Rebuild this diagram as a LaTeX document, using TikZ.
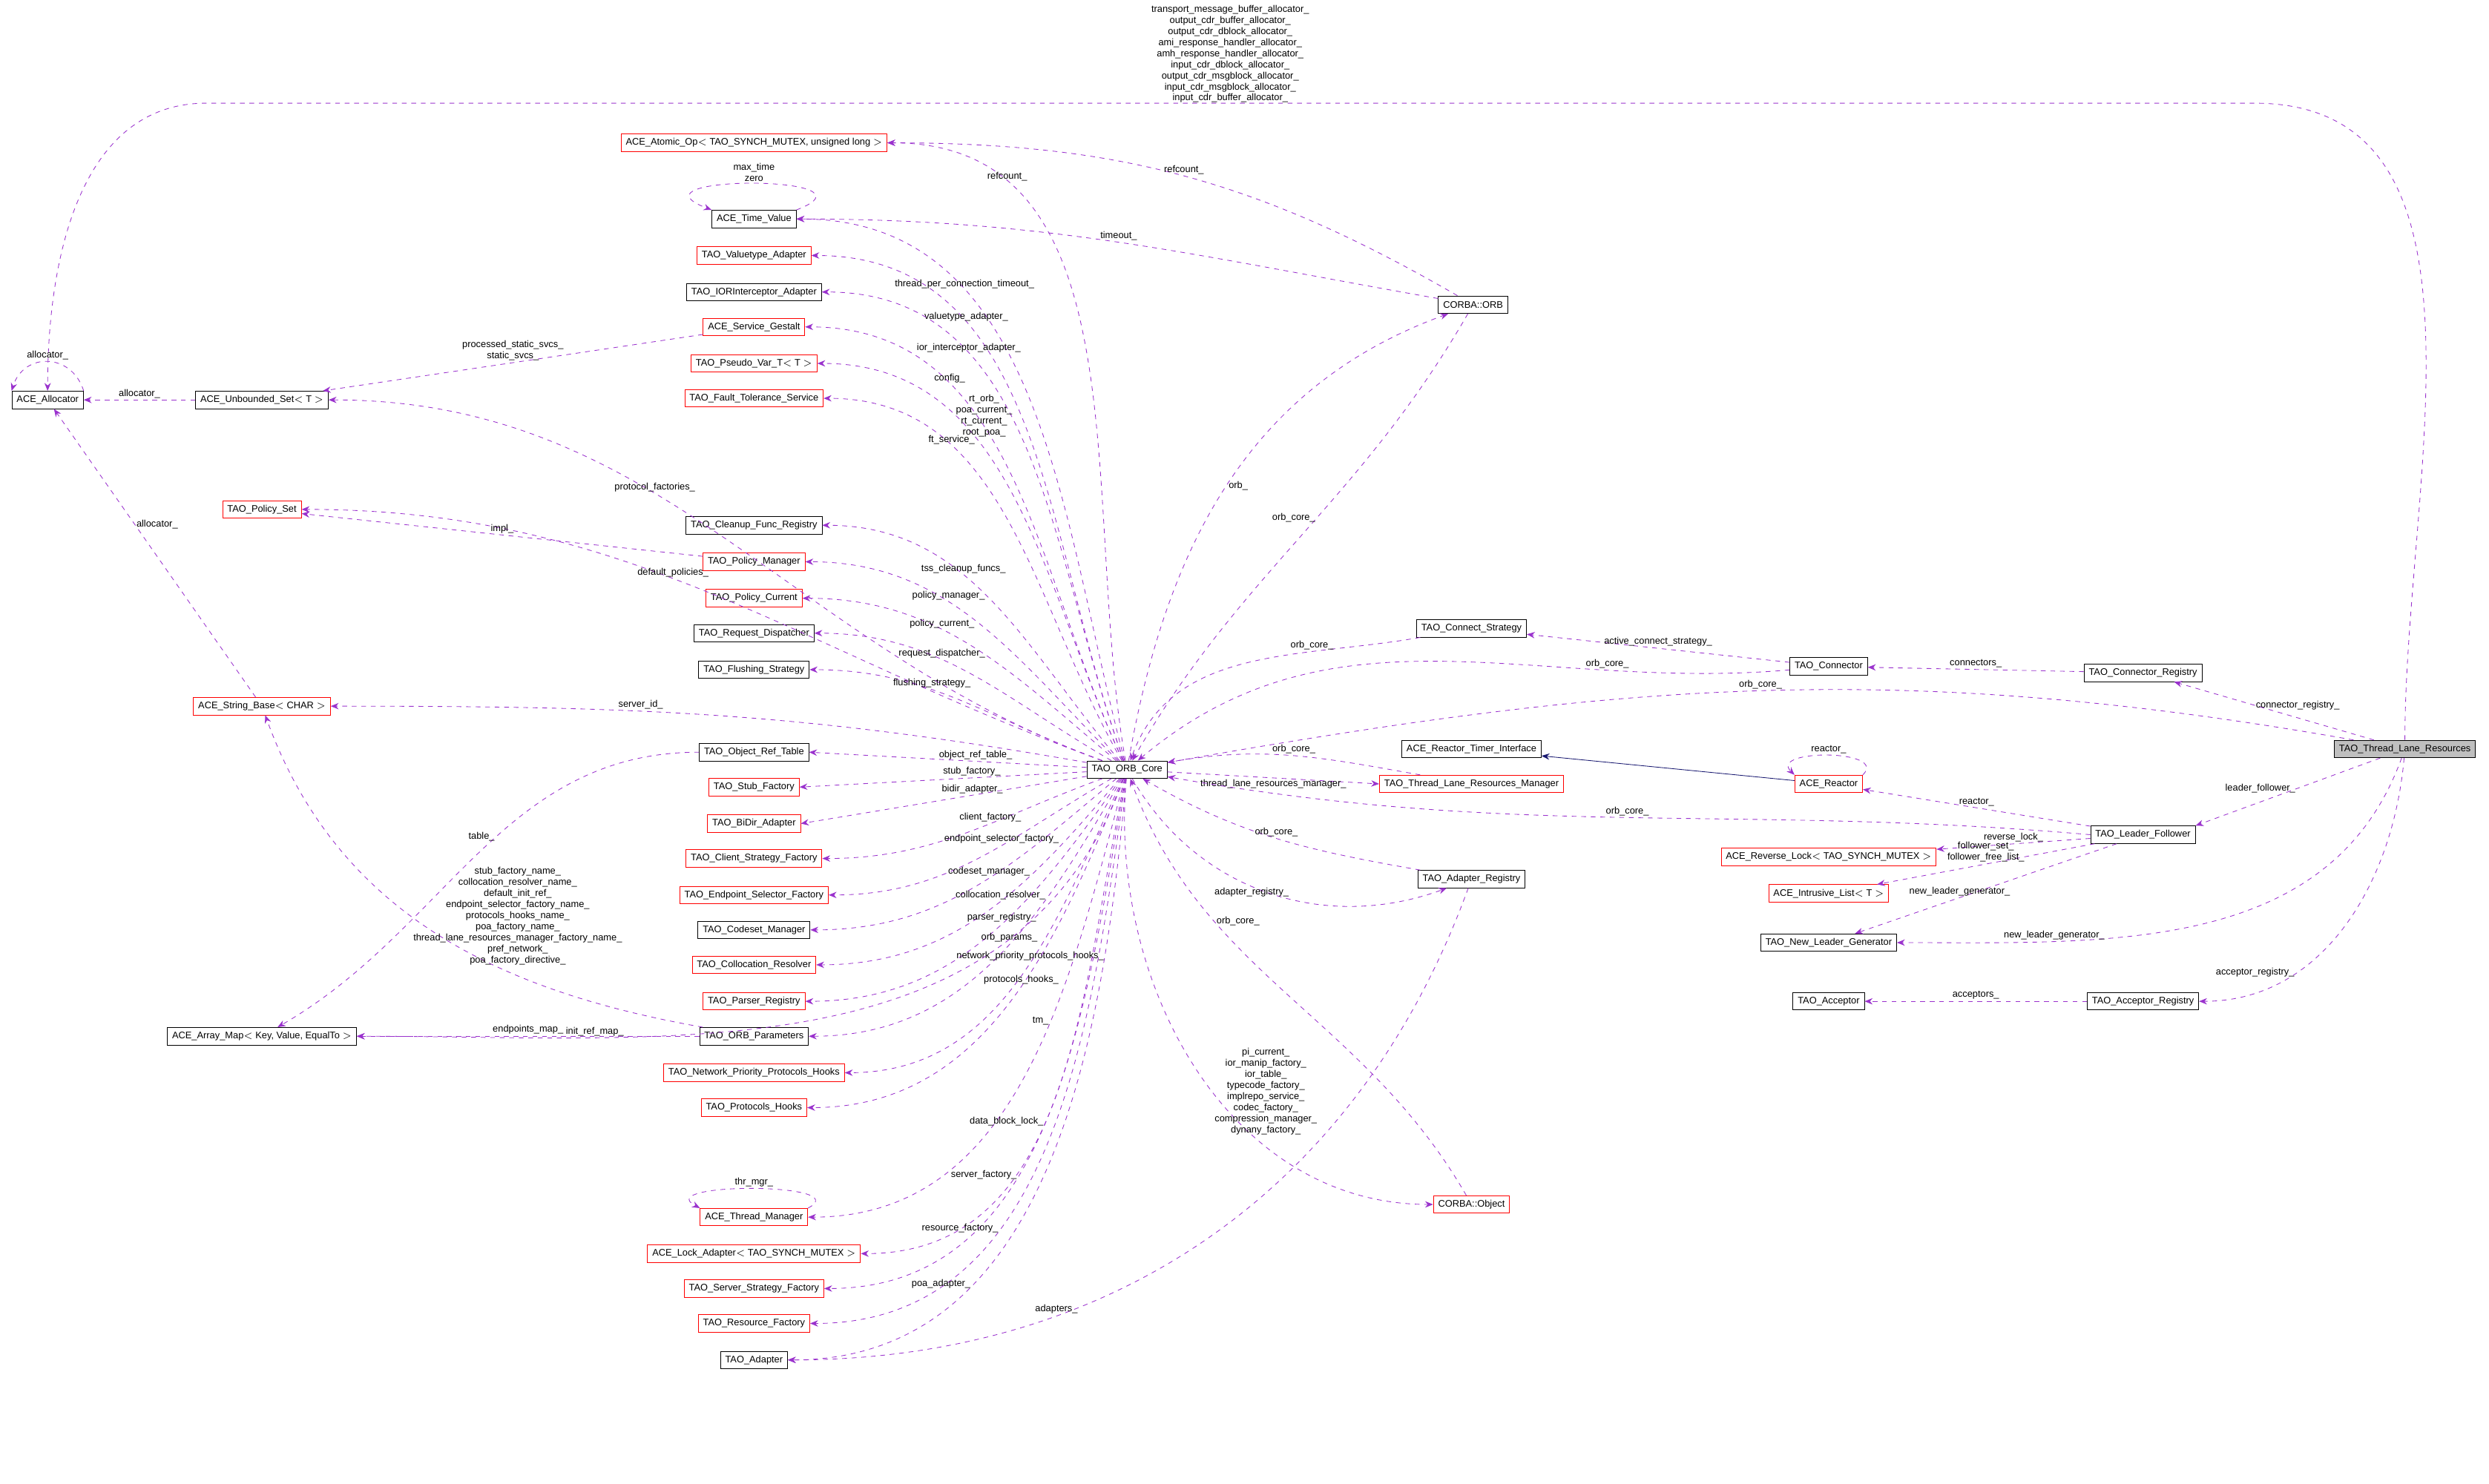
\documentclass[tikz,border=0pt]{standalone}
\usepackage{fontspec}
\setmainfont{Liberation Sans}
\usetikzlibrary{arrows.meta}
\definecolor{collcol}{HTML}{9A32CD}
\definecolor{inhcol}{HTML}{191970}
\tikzset{
  cls/.style={draw=black, inner xsep=3pt, inner ysep=1.5pt, minimum height=11pt, font=\fontsize{6}{7}\selectfont},
  clsred/.style={cls, draw=red},
  clsmain/.style={cls, fill=black!25},
  coll/.style={draw=collcol, dashed, -{Stealth[length=5pt,width=4pt]}},
  inh/.style={draw=inhcol, -{Stealth[length=5pt,width=4pt]}},
  lbl/.style={font=\fontsize{6}{7}\selectfont, align=center, inner sep=1pt, text=black}
}
\begin{document}
\begin{tikzpicture}[x=1pt, y=-1pt]
  \useasboundingbox (0,0) rectangle (1568,935);

  % Main class
  \node[clsmain] (tlr) at (1515,472) {TAO\_Thread\_Lane\_Resources};

  % Left column
  \node[cls] (alloc) at (30,252) {ACE\_Allocator};
  \node[cls] (uset) at (165,252) {ACE\_Unbounded\_Set$<$ T $>$};
  \node[clsred] (pset) at (165,321) {TAO\_Policy\_Set};
  \node[clsred] (sbase) at (165,445) {ACE\_String\_Base$<$ CHAR $>$};
  \node[cls] (amap) at (165,653) {ACE\_Array\_Map$<$ Key, Value, EqualTo $>$};

  % Middle column
  \node[clsred] (atomic) at (475,90) {ACE\_Atomic\_Op$<$ TAO\_SYNCH\_MUTEX, unsigned long $>$};
  \node[cls] (tval) at (475,138) {ACE\_Time\_Value};
  \node[clsred] (vtad) at (475,161) {TAO\_Valuetype\_Adapter};
  \node[cls] (iorad) at (475,184) {TAO\_IORInterceptor\_Adapter};
  \node[clsred] (gest) at (475,206) {ACE\_Service\_Gestalt};
  \node[clsred] (pvar) at (475,229) {TAO\_Pseudo\_Var\_T$<$ T $>$};
  \node[clsred] (ftserv) at (475,251) {TAO\_Fault\_Tolerance\_Service};
  \node[cls] (cleanup) at (475,331) {TAO\_Cleanup\_Func\_Registry};
  \node[clsred] (pman) at (475,354) {TAO\_Policy\_Manager};
  \node[clsred] (pcur) at (475,377) {TAO\_Policy\_Current};
  \node[cls] (rdisp) at (475,399) {TAO\_Request\_Dispatcher};
  \node[cls] (flush) at (475,422) {TAO\_Flushing\_Strategy};
  \node[cls] (oreft) at (475,474) {TAO\_Object\_Ref\_Table};
  \node[clsred] (stubf) at (475,496) {TAO\_Stub\_Factory};
  \node[clsred] (bidir) at (475,519) {TAO\_BiDir\_Adapter};
  \node[clsred] (clif) at (475,541) {TAO\_Client\_Strategy\_Factory};
  \node[clsred] (endsel) at (475,564) {TAO\_Endpoint\_Selector\_Factory};
  \node[cls] (codeset) at (475,586) {TAO\_Codeset\_Manager};
  \node[clsred] (colres) at (475,608) {TAO\_Collocation\_Resolver};
  \node[clsred] (parser) at (475,631) {TAO\_Parser\_Registry};
  \node[cls] (oparams) at (475,653) {TAO\_ORB\_Parameters};
  \node[clsred] (netprio) at (475,676) {TAO\_Network\_Priority\_Protocols\_Hooks};
  \node[clsred] (prhooks) at (475,698) {TAO\_Protocols\_Hooks};
  \node[clsred] (thrmgr) at (475,767) {ACE\_Thread\_Manager};
  \node[clsred] (lockad) at (475,790) {ACE\_Lock\_Adapter$<$ TAO\_SYNCH\_MUTEX $>$};
  \node[clsred] (servf) at (475,812) {TAO\_Server\_Strategy\_Factory};
  \node[clsred] (resf) at (475,834) {TAO\_Resource\_Factory};
  \node[cls] (adapter) at (475,857) {TAO\_Adapter};

  % Core
  \node[cls] (core) at (710,485) {TAO\_ORB\_Core};

  % Right side
  \node[cls] (orb) at (928,192) {CORBA::ORB};
  \node[cls] (cstrat) at (927,396) {TAO\_Connect\_Strategy};
  \node[cls] (conn) at (1152,420) {TAO\_Connector};
  \node[cls] (connreg) at (1350,424) {TAO\_Connector\_Registry};
  \node[cls] (rtimer) at (927,472) {ACE\_Reactor\_Timer\_Interface};
  \node[clsred] (reactor) at (1152,494) {ACE\_Reactor};
  \node[clsred] (tlrm) at (927,494) {TAO\_Thread\_Lane\_Resources\_Manager};
  \node[cls] (lf) at (1350,526) {TAO\_Leader\_Follower};
  \node[clsred] (rlock) at (1152,540) {ACE\_Reverse\_Lock$<$ TAO\_SYNCH\_MUTEX $>$};
  \node[clsred] (ilist) at (1152,563) {ACE\_Intrusive\_List$<$ T $>$};
  \node[cls] (nlg) at (1152,594) {TAO\_New\_Leader\_Generator};
  \node[cls] (areg) at (927,554) {TAO\_Adapter\_Registry};
  \node[cls] (accept) at (1152,631) {TAO\_Acceptor};
  \node[cls] (accreg) at (1350,631) {TAO\_Acceptor\_Registry};
  \node[clsred] (cobj) at (927,759) {CORBA::Object};

  % Thread lane resources
  \draw[coll] (tlr.north) to[out=90,in=0] (1420,65) -- node[lbl, above=-1pt] {transport\_message\_buffer\_allocator\_\\output\_cdr\_buffer\_allocator\_\\output\_cdr\_dblock\_allocator\_\\ami\_response\_handler\_allocator\_\\amh\_response\_handler\_allocator\_\\input\_cdr\_dblock\_allocator\_\\output\_cdr\_msgblock\_allocator\_\\input\_cdr\_msgblock\_allocator\_\\input\_cdr\_buffer\_allocator\_} (130,65) to[out=180,in=90] (alloc.north);
  \draw[coll] (tlr) to[out=170,in=10] node[lbl, pos=.5, above] {orb\_core\_} (core);
  \draw[coll] (tlr) -- node[lbl, right, pos=.6] {connector\_registry\_} (connreg);
  \draw[coll] (tlr) -- node[lbl, pos=.45, left] {leader\_follower\_} (lf.north east);
  \draw[coll] (tlr) to[out=250,in=0] node[lbl, pos=.75, above] {new\_leader\_generator\_} (nlg);
  \draw[coll] (tlr) to[out=265,in=0] node[lbl, pos=.7, left] {acceptor\_registry\_} (accreg);

  % ORB core members
  \draw[coll] (core) to[out=100,in=0] node[lbl, pos=.8, above] {refcount\_} (atomic);
  \draw[coll] (core) to[out=105,in=0] node[lbl, pos=.7, above] {thread\_per\_connection\_timeout\_} (tval);
  \draw[coll] (core) to[out=110,in=0] node[lbl, pos=.7, above] {valuetype\_adapter\_} (vtad);
  \draw[coll] (core) to[out=110,in=0] node[lbl, pos=.7, above] {ior\_interceptor\_adapter\_} (iorad);
  \draw[coll] (core) to[out=115,in=0] node[lbl, pos=.7, above] {config\_} (gest);
  \draw[coll] (core) to[out=115,in=0] node[lbl, pos=.7, right] {rt\_orb\_\\poa\_current\_\\rt\_current\_\\root\_poa\_} (pvar);
  \draw[coll] (core) to[out=120,in=0] node[lbl, pos=.7, above] {ft\_service\_} (ftserv);
  \draw[coll] (core) to[out=160,in=0] node[lbl, pos=.6, above] {protocol\_factories\_} (uset);
  \draw[coll] (core) to[out=160,in=0] node[lbl, pos=.55, above] {default\_policies\_} (pset);
  \draw[coll] (core) to[out=130,in=0] node[lbl, pos=.6, above] {tss\_cleanup\_funcs\_} (cleanup);
  \draw[coll] (core) to[out=135,in=0] node[lbl, pos=.6, above] {policy\_manager\_} (pman);
  \draw[coll] (core) to[out=140,in=0] node[lbl, pos=.6, above] {policy\_current\_} (pcur);
  \draw[coll] (core) to[out=150,in=0] node[lbl, pos=.6, above] {request\_dispatcher\_} (rdisp);
  \draw[coll] (core) to[out=160,in=0] node[lbl, pos=.6, above] {flushing\_strategy\_} (flush);
  \draw[coll] (core) to[out=170,in=0] node[lbl, pos=.6, above] {server\_id\_} (sbase);
  \draw[coll] (core) -- node[lbl, pos=.4, above] {object\_ref\_table\_} (oreft.east);
  \draw[coll] (core) -- node[lbl, pos=.4, above] {stub\_factory\_} (stubf.east);
  \draw[coll] (core) -- node[lbl, pos=.4, above] {bidir\_adapter\_} (bidir.east);
  \draw[coll] (core) to[out=200,in=0] node[lbl, pos=.4, above] {client\_factory\_} (clif);
  \draw[coll] (core) to[out=210,in=0] node[lbl, pos=.4, above] {endpoint\_selector\_factory\_} (endsel);
  \draw[coll] (core) to[out=220,in=0] node[lbl, pos=.45, above] {codeset\_manager\_} (codeset);
  \draw[coll] (core) to[out=230,in=0] node[lbl, pos=.45, above] {collocation\_resolver\_} (colres);
  \draw[coll] (core) to[out=235,in=0] node[lbl, pos=.45, above] {parser\_registry\_} (parser);
  \draw[coll] (core) to[out=240,in=0] node[lbl, pos=.45, above] {orb\_params\_} (oparams);
  \draw[coll] (core) to[out=245,in=0] node[lbl, pos=.45, above] {network\_priority\_protocols\_hooks\_} (netprio);
  \draw[coll] (core) to[out=248,in=0] node[lbl, pos=.45, above] {protocols\_hooks\_} (prhooks);
  \draw[coll] (core) to[out=250,in=0] node[lbl, pos=.75, above] {init\_ref\_map\_} (amap);
  \draw[coll] (core) to[out=255,in=0] node[lbl, pos=.4, left] {tm\_} (thrmgr);
  \draw[coll] (core) to[out=258,in=0] node[lbl, pos=.55, left] {data\_block\_lock\_} (lockad);
  \draw[coll] (core) to[out=260,in=0] node[lbl, pos=.6, left] {server\_factory\_} (servf);
  \draw[coll] (core) to[out=262,in=0] node[lbl, pos=.65, left] {resource\_factory\_} (resf);
  \draw[coll] (core) to[out=265,in=0] node[lbl, pos=.7, left] {poa\_adapter\_} (adapter);
  \draw[coll] (core) to[out=80,in=200] node[lbl, pos=.5, right] {orb\_} (orb);
  \draw[coll] (core) -- node[lbl, pos=.5, below] {thread\_lane\_resources\_manager\_} (tlrm.west);
  \draw[coll] (core) to[out=265,in=180] node[lbl, pos=.55, right] {pi\_current\_\\ior\_manip\_factory\_\\ior\_table\_\\typecode\_factory\_\\implrepo\_service\_\\codec\_factory\_\\compression\_manager\_\\dynany\_factory\_} (cobj);
  \draw[coll] (core) to[out=300,in=200] node[lbl, pos=.45, below] {adapter\_registry\_} (areg);

  % CORBA::ORB members
  \draw[coll] (orb) to[out=150,in=0] node[lbl, pos=.5, above] {refcount\_} (atomic);
  \draw[coll] (orb) to[out=170,in=0] node[lbl, pos=.5, above] {timeout\_} (tval);
  \draw[coll] (orb) to[out=240,in=60] node[lbl, pos=.45, left] {orb\_core\_} (core);

  % Other members
  \draw[coll] (tval.north east) .. controls (560,110) and (390,110) .. node[lbl, above] {max\_time\\zero} (tval.north west);
  \draw[coll] (gest) -- node[lbl, above] {processed\_static\_svcs\_\\static\_svcs\_} (uset);
  \draw[coll] (uset) -- node[lbl, above] {allocator\_} (alloc);
  \draw[coll] (alloc.north east) .. controls (45,222) and (15,222) .. node[lbl, above] {allocator\_} (alloc.north west);
  \draw[coll] (sbase) -- node[lbl, right, pos=.6] {allocator\_} (alloc);
  \draw[coll] (pman) -- node[lbl, above] {impl\_} (pset);
  \draw[coll] (oparams) to[out=170,in=290] node[lbl, pos=.55, right] {stub\_factory\_name\_\\collocation\_resolver\_name\_\\default\_init\_ref\_\\endpoint\_selector\_factory\_name\_\\protocols\_hooks\_name\_\\poa\_factory\_name\_\\thread\_lane\_resources\_manager\_factory\_name\_\\pref\_network\_\\poa\_factory\_directive\_} (sbase);
  \draw[coll] (oparams) -- node[lbl, above] {endpoints\_map\_} (amap);
  \draw[coll] (oreft) to[out=180,in=30] node[lbl, pos=.45, left] {table\_} (amap);
  \draw[coll] (thrmgr.north east) .. controls (540,745) and (410,745) .. node[lbl, above] {thr\_mgr\_} (thrmgr.north west);
  \draw[coll] (cstrat) to[out=190,in=70] node[lbl, pos=.3, above] {orb\_core\_} (core);
  \draw[coll] (conn) -- node[lbl, above] {active\_connect\_strategy\_} (cstrat);
  \draw[coll] (conn) to[out=185,in=40] node[lbl, pos=.25, above] {orb\_core\_} (core);
  \draw[coll] (connreg) -- node[lbl, above] {connectors\_} (conn);
  \draw[inh] (reactor) -- (rtimer);
  \draw[coll] (reactor.north east) .. controls (1190,472) and (1114,472) .. node[lbl, above] {reactor\_} (reactor.north west);
  \draw[coll] (tlrm) to[out=170,in=10] node[lbl, pos=.5, above] {orb\_core\_} (core);
  \draw[coll] (lf) -- node[lbl, above] {reactor\_} (reactor);
  \draw[coll] (lf.west) to[out=175,in=-10] node[lbl, pos=.5, above] {orb\_core\_} (core);
  \draw[coll] (lf) -- node[lbl, above] {reverse\_lock\_} (rlock);
  \draw[coll] (lf) -- node[lbl, above] {follower\_set\_\\follower\_free\_list\_} (ilist);
  \draw[coll] (lf) -- node[lbl, above, pos=.6] {new\_leader\_generator\_} (nlg);
  \draw[coll] (areg) to[out=170,in=-30] node[lbl, pos=.5, above] {orb\_core\_} (core);
  \draw[coll] (cobj) to[out=120,in=-70] node[lbl, pos=.7, right] {orb\_core\_} (core);
  \draw[coll] (areg) to[out=250,in=0] node[lbl, pos=.7, above] {adapters\_} (adapter);
  \draw[coll] (accreg) -- node[lbl, above] {acceptors\_} (accept);
\end{tikzpicture}
\end{document}
